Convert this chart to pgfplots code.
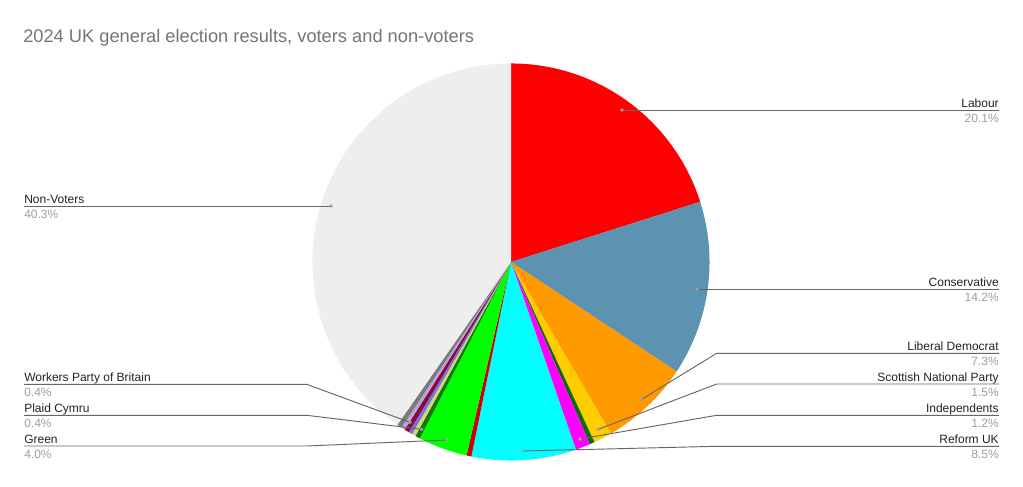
\documentclass[border=0pt]{standalone}
\usepackage{pgfplots}
\pgfplotsset{compat=1.18}
\usepackage{pgfplotstable}
\usepackage{fontspec}
\setmainfont{Liberation Sans}

\definecolor{cLab}{HTML}{FF0000}
\definecolor{cCon}{HTML}{5B93B0}
\definecolor{cLD}{HTML}{FF9900}
\definecolor{cSNP}{HTML}{FFCC00}
\definecolor{cSF}{HTML}{0B6B0B}
\definecolor{cInd}{HTML}{FF00FF}
\definecolor{cRef}{HTML}{00FFFF}
\definecolor{cDUP}{HTML}{CC0000}
\definecolor{cGrn}{HTML}{00FF00}
\definecolor{cPC}{HTML}{0A7A0A}
\definecolor{cYel}{HTML}{D8D86A}
\definecolor{cBlu}{HTML}{7373E6}
\definecolor{cWPB}{HTML}{8B0A3C}
\definecolor{cLav}{HTML}{B4A4E0}
\definecolor{cOth}{HTML}{7A7A7A}
\definecolor{cNV}{HTML}{EEEEEE}
\definecolor{cTitle}{HTML}{757575}
\definecolor{cName}{HTML}{222222}
\definecolor{cPct}{HTML}{9E9E9E}
\definecolor{cLine}{HTML}{666666}
\definecolor{cDot}{HTML}{A0A0A0}

\pgfplotstableread[col sep=comma]{
name,value,col
Labour,20.1,cLab
Conservative,14.2,cCon
Liberal Democrat,7.3,cLD
Scottish National Party,1.5,cSNP
Sinn Fein,0.4,cSF
Independents,1.2,cInd
Reform UK,8.5,cRef
DUP,0.4,cDUP
Green,4.0,cGrn
Plaid Cymru,0.4,cPC
Alliance,0.3,cYel
UUP,0.3,cBlu
Workers Party of Britain,0.4,cWPB
SDLP,0.3,cLav
Other,0.4,cOth
Non-Voters,40.3,cNV
}\piedata

\tikzset{
  nm/.style={inner sep=0pt, font=\fontsize{9}{11}\selectfont, text=cName},
  pc/.style={inner sep=0pt, font=\fontsize{9}{11}\selectfont, text=cPct},
  ld/.style={draw=cLine, line width=0.7pt},
  dt/.style={fill=cDot},
}

\begin{document}
\begin{tikzpicture}
\begin{axis}[
  x=0.75pt, y=0.75pt,
  xmin=0, xmax=1023, ymin=0, ymax=486,
  hide axis, clip=false,
]
\fill[white] (axis cs:0,0) rectangle (axis cs:1023,486);

\pgfplotstablegetrowsof{\piedata}
\pgfmathtruncatemacro\N{\pgfplotsretval-1}
\def\cum{0}
\pgfplotsforeachungrouped \i in {0,...,\N}{
  \pgfplotstablegetelem{\i}{value}\of\piedata \let\v\pgfplotsretval
  \pgfplotstablegetelem{\i}{col}\of\piedata \let\c\pgfplotsretval
  \pgfmathsetmacro\a{90-3.6*\cum}
  \pgfmathsetmacro\b{90-3.6*(\cum+\v)}
  \edef\temp{\noexpand\fill[\c] (axis cs:511,224) -- ++(\a:148.9pt) arc[start angle=\a, end angle=\b, radius=148.9pt] -- cycle;}
  \temp
  \pgfmathsetmacro\cum{\cum+\v}
  \global\let\cum\cum
}

% title
\node[anchor=base west, inner sep=0pt, font=\fontsize{13.7}{16}\selectfont, text=cTitle] at (axis cs:23,443.5) {2024 UK general election results, voters and non-voters};

% right labels
\draw[ld] (axis cs:622,376) -- (axis cs:999,376);
\fill[dt] (axis cs:622,376) circle (1.4pt);
\node[nm, anchor=base east] at (axis cs:999,378.7) {Labour};
\node[pc, anchor=base east] at (axis cs:999,363.5) {20.1\%};

\draw[ld] (axis cs:697,197) -- (axis cs:999,197);
\fill[dt] (axis cs:697,197) circle (1.4pt);
\node[nm, anchor=base east] at (axis cs:999,199.7) {Conservative};
\node[pc, anchor=base east] at (axis cs:999,184.5) {14.2\%};

\draw[ld] (axis cs:641.7,86.7) -- (axis cs:716.7,132.7) -- (axis cs:999,132.7);
\fill[dt] (axis cs:641.7,86.7) circle (1.4pt);
\node[nm, anchor=base east] at (axis cs:999,135.4) {Liberal Democrat};
\node[pc, anchor=base east] at (axis cs:999,120.2) {7.3\%};

\draw[ld] (axis cs:598.3,56.7) -- (axis cs:716.7,102) -- (axis cs:999,102);
\fill[dt] (axis cs:598.3,56.7) circle (1.4pt);
\node[nm, anchor=base east] at (axis cs:999,104.7) {Scottish National Party};
\node[pc, anchor=base east] at (axis cs:999,89.5) {1.5\%};

\draw[ld] (axis cs:580,47) -- (axis cs:716.7,70.7) -- (axis cs:999,70.7);
\fill[dt] (axis cs:580,47) circle (1.4pt);
\node[nm, anchor=base east] at (axis cs:999,73.4) {Independents};
\node[pc, anchor=base east] at (axis cs:999,58.2) {1.2\%};

\draw[ld] (axis cs:523.3,35) -- (axis cs:716.7,39.7) -- (axis cs:999,39.7);
\fill[dt] (axis cs:523.3,35) circle (1.4pt);
\node[nm, anchor=base east] at (axis cs:999,42.4) {Reform UK};
\node[pc, anchor=base east] at (axis cs:999,27.2) {8.5\%};

% left labels
\draw[ld] (axis cs:24,280) -- (axis cs:331,280);
\fill[dt] (axis cs:331,280) circle (1.4pt);
\node[nm, anchor=base west] at (axis cs:24,282.7) {Non-Voters};
\node[pc, anchor=base west] at (axis cs:24,267.5) {40.3\%};

\draw[ld] (axis cs:24,101.7) -- (axis cs:306.7,101.7) -- (axis cs:410,63.7);
\fill[dt] (axis cs:410,63.7) circle (1.4pt);
\node[nm, anchor=base west] at (axis cs:24,104.4) {Workers Party of Britain};
\node[pc, anchor=base west] at (axis cs:24,89.2) {0.4\%};

\draw[ld] (axis cs:24,70.7) -- (axis cs:306.7,70.7) -- (axis cs:421.7,56.7);
\fill[dt] (axis cs:421.7,56.7) circle (1.4pt);
\node[nm, anchor=base west] at (axis cs:24,73.4) {Plaid Cymru};
\node[pc, anchor=base west] at (axis cs:24,58.2) {0.4\%};

\draw[ld] (axis cs:24,40) -- (axis cs:306.7,40) -- (axis cs:446.7,46);
\fill[dt] (axis cs:446.7,46) circle (1.4pt);
\node[nm, anchor=base west] at (axis cs:24,42.7) {Green};
\node[pc, anchor=base west] at (axis cs:24,27.5) {4.0\%};
\end{axis}
\end{tikzpicture}
\end{document}
